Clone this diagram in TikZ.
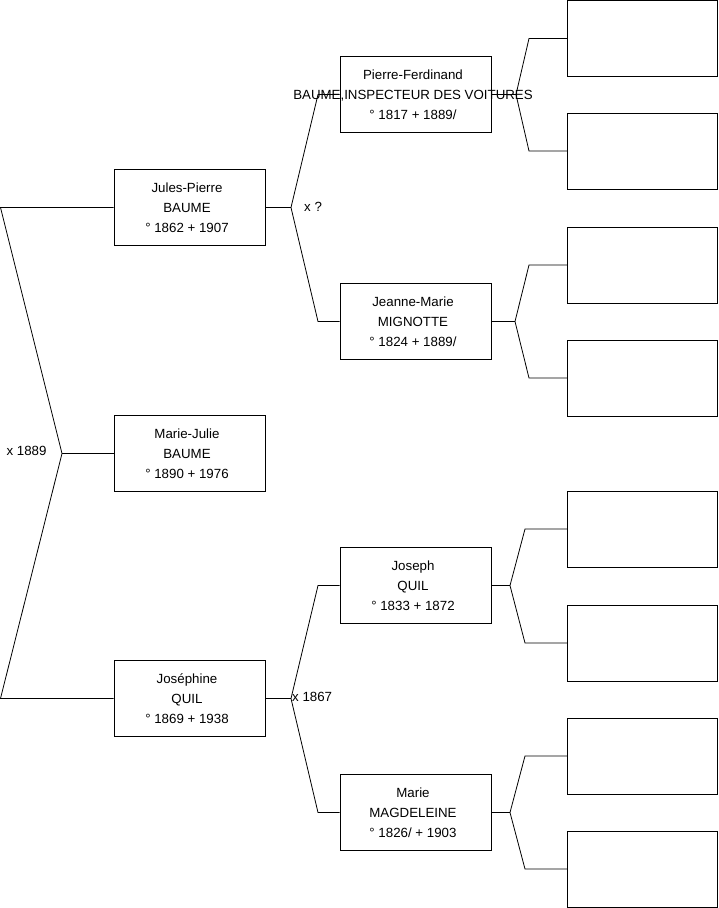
\documentclass[tikz,border=0pt]{standalone}
\usepackage{fontspec}
\setmainfont{Liberation Sans}
\newcommand\pline[1]{\makebox[0pt][c]{#1\kern5pt}}
\newcommand\plines[3]{\pline{#1}\\\pline{#2}\\\pline{#3}}
\begin{document}
\begin{tikzpicture}[x=1pt,y=-1pt,
  person/.style={draw=black, line width=0.8pt, minimum width=151pt, minimum height=76pt,
    inner sep=0pt, align=center, font=\fontsize{13.3}{20}\selectfont},
  empty/.style={draw=black, line width=0.8pt, minimum width=150pt, minimum height=76pt, inner sep=0pt},
  link/.style={draw=black, line width=0.8pt},
  lbl/.style={font=\fontsize{13.3}{16}\selectfont, inner sep=0pt}]
\useasboundingbox (0,0) rectangle (719,908);

% generation 1-2
\node[person] (jp) at (189.5,207.5) {\plines{Jules-Pierre}{BAUME}{° 1862 + 1907}};
\node[person] (mj) at (189.5,453.5) {\plines{Marie-Julie}{BAUME}{° 1890 + 1976}};
\node[person] (jo) at (189.5,698.5) {\plines{Joséphine}{QUIL}{° 1869 + 1938}};

% generation 3
\node[person] (pf) at (415.5,94.5) {\plines{Pierre-Ferdinand}{BAUME,INSPECTEUR DES VOITURES}{° 1817 + 1889/}};
\node[person] (jm) at (415.5,321.5) {\plines{Jeanne-Marie}{MIGNOTTE}{° 1824 + 1889/}};
\node[person] (js) at (415.5,585.5) {\plines{Joseph}{QUIL}{° 1833 + 1872}};
\node[person] (mm) at (415.5,812.5) {\plines{Marie}{MAGDELEINE}{° 1826/ + 1903}};

% generation 4 (empty)
\node[empty] (e1) at (642.5,38.5) {};
\node[empty] (e2) at (642.5,151) {};
\node[empty] (e3) at (642.5,265) {};
\node[empty] (e4) at (642.5,378) {};
\node[empty] (e5) at (642.5,529) {};
\node[empty] (e6) at (642.5,643) {};
\node[empty] (e7) at (642.5,756) {};
\node[empty] (e8) at (642.5,869) {};

% fork coordinates
\coordinate (tl) at (0.5,207.5);
\coordinate (fl) at (62,453.5);
\coordinate (bl) at (0.5,698.5);
\coordinate (f1) at (291,207.5);
\coordinate (f1a) at (318,94.5);
\coordinate (f1b) at (318,321.5);
\coordinate (f2) at (291,698.5);
\coordinate (f2a) at (318,585.5);
\coordinate (f2b) at (318,812.5);
\coordinate (f3) at (516,94.5);
\coordinate (f3a) at (529,38.5);
\coordinate (f3b) at (529,151);
\coordinate (f4) at (515,321.5);
\coordinate (f4a) at (529,265);
\coordinate (f4b) at (529,378);
\coordinate (f5) at (510,585.5);
\coordinate (f5a) at (525,529);
\coordinate (f5b) at (525,643);
\coordinate (f6) at (510,812.5);
\coordinate (f6a) at (525,756);
\coordinate (f6b) at (525,869);

% connectors
\draw[link] (jp.west) -- (tl) -- (fl) -- (bl) -- (jo.west);
\draw[link] (fl) -- (mj.west);
\draw[link] (jp.east) -- (f1);
\draw[link] (f1) -- (f1a) -- (pf.west);
\draw[link] (f1) -- (f1b) -- (jm.west);
\draw[link] (jo.east) -- (f2);
\draw[link] (f2) -- (f2a) -- (js.west);
\draw[link] (f2) -- (f2b) -- (mm.west);
\draw[link] (pf.east) -- (f3);
\draw[link] (f3) -- (f3a) -- (e1.west);
\draw[link] (f3) -- (f3b) -- (e2.west);
\draw[link] (jm.east) -- (f4);
\draw[link] (f4) -- (f4a) -- (e3.west);
\draw[link] (f4) -- (f4b) -- (e4.west);
\draw[link] (js.east) -- (f5);
\draw[link] (f5) -- (f5a) -- (e5.west);
\draw[link] (f5) -- (f5b) -- (e6.west);
\draw[link] (mm.east) -- (f6);
\draw[link] (f6) -- (f6a) -- (e7.west);
\draw[link] (f6) -- (f6b) -- (e8.west);

% marriage labels
\node[lbl] (m1) at (26.5,451) {x 1889};
\node[lbl, anchor=west] (m2) at (304,207) {x ?};
\node[lbl, anchor=west] (m3) at (292,697) {x 1867};
\end{tikzpicture}
\end{document}
